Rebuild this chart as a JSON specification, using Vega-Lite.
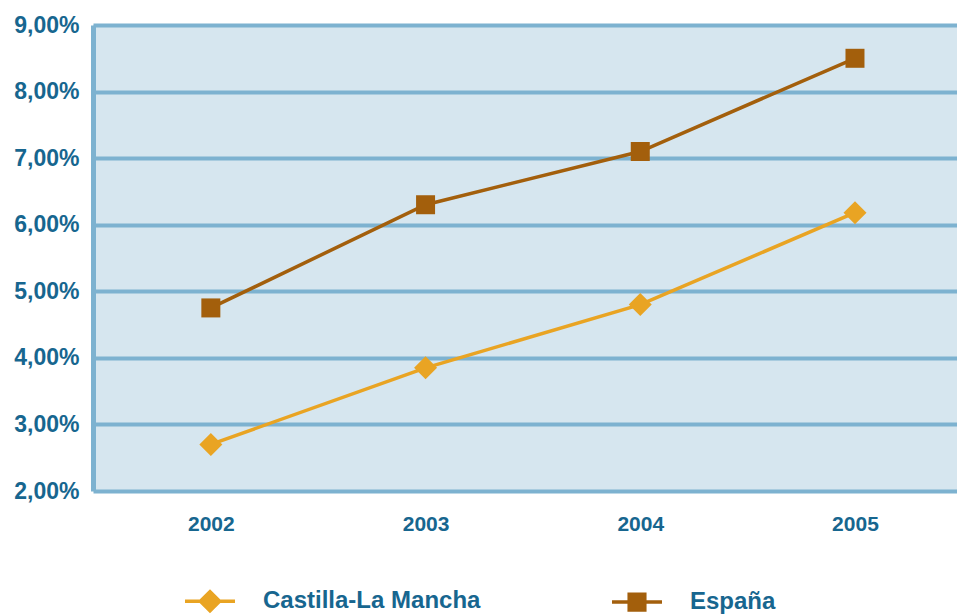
{
  "$schema": "https://vega.github.io/schema/vega-lite/v6.json",
  "width": 864,
  "height": 466,
  "autosize": "none",
  "padding": {"left": 93, "top": 25, "right": 0, "bottom": 123},
  "background": "white",
  "config": {
    "locale": {"number": {"decimal": ",", "thousands": ".", "grouping": [3], "currency": ["", " €"]}},
    "view": {"fill": "#D6E6EF", "stroke": null},
    "font": "Liberation Sans",
    "legend": {"orient": "none", "legendX": 103, "legendY": 562, "direction": "horizontal", "title": null, "padding": 0,
      "symbolSize": 576, "symbolStrokeWidth": 3.5, "symbolOpacity": 1, "labelOffset": 39, "columnPadding": 124, "labelLimit": 0,
      "labelFont": "Liberation Sans", "labelFontWeight": "bold", "labelFontSize": 24, "labelColor": "#17668F"}
  },
  "data": {
    "values": [
      {"year": "2002", "serie": "Castilla-La Mancha", "valor": 0.027},
      {"year": "2003", "serie": "Castilla-La Mancha", "valor": 0.0385},
      {"year": "2004", "serie": "Castilla-La Mancha", "valor": 0.048},
      {"year": "2005", "serie": "Castilla-La Mancha", "valor": 0.0618},
      {"year": "2002", "serie": "España", "valor": 0.0475},
      {"year": "2003", "serie": "España", "valor": 0.063},
      {"year": "2004", "serie": "España", "valor": 0.071},
      {"year": "2005", "serie": "España", "valor": 0.085}
    ]
  },
  "encoding": {
    "x": {
      "field": "year", "type": "ordinal",
      "scale": {"type": "point", "padding": 0.512, "align": 0.536},
      "axis": {"title": null, "domain": false, "ticks": false, "grid": false, "labelAngle": 0, "labelPadding": 22,
        "labelFont": "Liberation Sans", "labelFontWeight": "bold", "labelFontSize": 21, "labelColor": "#17668F"}
    },
    "y": {
      "field": "valor", "type": "quantitative",
      "scale": {"domain": [0.02, 0.09], "nice": false, "zero": false},
      "axis": {"title": null, "format": ".2%", "values": [0.02, 0.03, 0.04, 0.05, 0.06, 0.07, 0.08, 0.09],
        "grid": true, "gridColor": "#7DB2D0", "gridWidth": 4, "gridOpacity": 1,
        "domain": true, "domainColor": "#7DB2D0", "domainWidth": 5, "ticks": false, "labelPadding": 14,
        "labelFont": "Liberation Sans", "labelFontWeight": "bold", "labelFontSize": 23, "labelColor": "#17668F"}
    },
    "color": {"field": "serie", "type": "nominal",
      "scale": {"domain": ["Castilla-La Mancha", "España"], "range": ["#E9A423", "#A35F0C"]}}
  },
  "layer": [
    {"mark": {"type": "line", "strokeWidth": 3.5}},
    {
      "mark": {"type": "point", "filled": true, "opacity": 1},
      "encoding": {
        "shape": {"condition": {"test": "datum.serie === 'España'", "value": "square"}, "value": "diamond"},
        "size": {"condition": {"test": "datum.serie === 'España'", "value": 361}, "value": 529}
      }
    },
    {
      "transform": [{"filter": "datum.valor < 0"}],
      "mark": {"type": "point", "filled": false, "opacity": 1, "strokeWidth": 3.5, "size": 576},
      "encoding": {
        "shape": {"field": "serie", "type": "nominal",
          "scale": {"domain": ["Castilla-La Mancha", "España"], "range": [
            "M-2.083,0H2.083M-0.8,0L0,-0.8L0.8,0L0,0.8ZM-0.6,0L0,-0.6L0.6,0L0,0.6ZM-0.4,0L0,-0.4L0.4,0L0,0.4ZM-0.2,0L0,-0.2L0.2,0L0,0.2Z",
            "M-2.083,0H2.083M-0.65,-0.65H0.65V0.65H-0.65ZM-0.45,-0.45H0.45V0.45H-0.45ZM-0.25,-0.25H0.25V0.25H-0.25ZM-0.05,-0.05H0.05V0.05H-0.05Z"]}}
      }
    }
  ]
}
